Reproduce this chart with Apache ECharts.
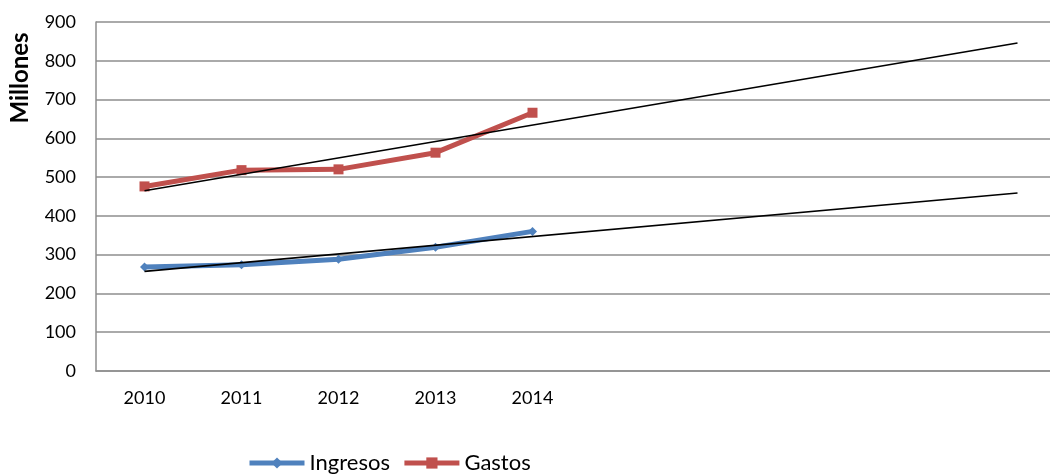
<!DOCTYPE html>
<html><head><meta charset="utf-8">
<script src="https://cdn.jsdelivr.net/npm/echarts@6/dist/echarts.min.js"></script>
<style>html,body{margin:0;padding:0;background:#fff;overflow:hidden}#c{width:1070px;height:474px}</style>
</head><body><div id="c"></div>
<script>
var categories = ['2010','2011','2012','2013','2014','2015','2016','2017','2018','2019'];
var shownLabels = ['2010','2011','2012','2013','2014'];
var ingresos = [268, 274, 288, 319, 360];
var gastos = [476, 518, 520, 563, 666];
var ingresosTrend = [[0, 257], [9, 459]];
var gastosTrend = [[0, 465], [9, 846]];
var yTicks = {min: 0, max: 900, interval: 100};
var FONT = 'Lato';

var chart = echarts.init(document.getElementById('c'));
chart.setOption({
  animation: false,
  textStyle: {fontFamily: FONT},
  grid: {left: 96, top: 22, width: 970, height: 349, containLabel: false},
  xAxis: {
    type: 'category', data: categories, boundaryGap: true,
    axisLine: {lineStyle: {color: '#8e8e8e', width: 1.5}},
    axisTick: {show: false},
    axisLabel: {color: '#000', fontSize: 18, margin: 18, fontFamily: FONT,
      formatter: function(v){ return shownLabels.indexOf(v) >= 0 ? v : ''; }}
  },
  yAxis: {
    type: 'value', min: yTicks.min, max: yTicks.max, interval: yTicks.interval,
    axisLine: {show: true, lineStyle: {color: '#8e8e8e', width: 1.5}},
    axisTick: {show: false},
    axisLabel: {color: '#000', fontSize: 18, margin: 20, fontFamily: FONT},
    splitLine: {lineStyle: {color: '#8e8e8e', width: 1.5}}
  },
  legend: {
    left: 247, top: 452, padding: 0, itemWidth: 55, itemHeight: 14, itemGap: 12,
    textStyle: {fontSize: 22, color: '#000', fontFamily: FONT},
    data: [
      {name: 'Ingresos', lineStyle: {width: 5}},
      {name: 'Gastos', lineStyle: {width: 5}}
    ]
  },
  graphic: [{
    type: 'text', x: 20, y: 78, rotation: Math.PI / 2,
    style: {text: 'Millones', fontSize: 24, fontWeight: 'bold', fontFamily: FONT, fill: '#000',
      align: 'center', verticalAlign: 'middle', textAlign: 'center', textVerticalAlign: 'middle'}
  }],
  series: [
    {name: 'Ingresos', type: 'line', data: ingresos, symbol: 'diamond', symbolSize: 9,
      lineStyle: {color: '#4F81BD', width: 5}, itemStyle: {color: '#4F81BD'}, z: 2},
    {name: 'Gastos', type: 'line', data: gastos, symbol: 'rect', symbolSize: 10,
      lineStyle: {color: '#C0504D', width: 5}, itemStyle: {color: '#C0504D'}, z: 2},
    {name: 'trendI', type: 'line', data: ingresosTrend, symbol: 'none',
      lineStyle: {color: '#000', width: 1.6}, z: 3, silent: true},
    {name: 'trendG', type: 'line', data: gastosTrend, symbol: 'none',
      lineStyle: {color: '#000', width: 1.6}, z: 3, silent: true}
  ]
});
</script></body></html>
